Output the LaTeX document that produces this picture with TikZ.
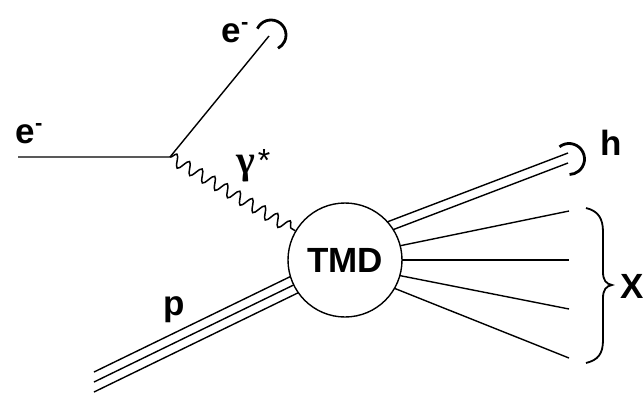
\documentclass[tikz,border=0pt]{standalone}
\usepackage{fontspec}
\setmainfont{Liberation Sans}
\newfontfamily\greekserif{Liberation Serif}
\usetikzlibrary{decorations.pathmorphing,calc}
\begin{document}
\begin{tikzpicture}[x=1pt,y=-1pt, line width=1.4pt,
  lbl/.style={inner sep=0, anchor=base west, font=\fontsize{35}{35}\selectfont\bfseries},
  hookarc/.style={line width=2.8pt},
  photon/.style={decorate, line width=1.5pt, decoration={snake, segment length=14.6pt, amplitude=6pt}},
  blob/.style={circle, draw, fill=white, minimum size=114pt, inner sep=0pt, line width=1.4pt,
    font=\fontsize{35}{35}\selectfont\bfseries}]
\useasboundingbox (0,0) rectangle (644,397);
% coordinates
\coordinate (L) at (18,157);
\coordinate (V) at (170,157);
\coordinate (E) at (269,36);
\coordinate (EH) at (271,35);
\coordinate (C) at (345,260);
\coordinate (Q) at (326,261);
\coordinate (X1) at (569,211);
\coordinate (X2) at (569,260);
\coordinate (X3) at (569,309);
\coordinate (X4) at (569,358);
\coordinate (H0) at (345,243);
\coordinate (HE) at (568,158);
\coordinate (HH) at (569,159);
\coordinate (P0) at (94,382);
% electrons
\draw (L) -- (V) -- (E);
\draw[hookarc] (EH) ++(-155:15) arc[start angle=-155, end angle=62, radius=15];
% proton (triple line)
\draw ($(P0)+(0,-10)$) -- ($(C)+(0,-10)$);
\draw (P0) -- (C);
\draw ($(P0)+(0,10)$) -- ($(C)+(0,10)$);
% hadron h (double line)
\draw ($(H0)+(0,-5)$) -- ($(HE)+(0,-5)$);
\draw ($(H0)+(0,5)$) -- ($(HE)+(0,5)$);
\draw[hookarc] (HH) ++(-128:15.5) arc[start angle=-128, end angle=88, radius=15.5];
% X lines
\draw (Q) -- (X1);
\draw (Q |- X2) -- (X2);
\draw (Q) -- (X3);
\draw (Q) -- (X4);
% blob
\node[blob] (tmd) at (C) {TMD};
% photon
\draw[photon] (V) -- (tmd);
% brace
\draw[line width=1.8pt] (586,208) .. controls (598,211) and (603,218) .. (603,232) -- (603,272)
  .. controls (603,280) and (606,284) .. (612,285)
  .. controls (606,286) and (603,290) .. (603,298) -- (603,340)
  .. controls (603,354) and (598,360) .. (586,363);
% labels
\node[lbl] (eL) at (15,143) {e\raisebox{13pt}{\fontsize{22}{22}\selectfont -}};
\node[lbl] (eT) at (221,42) {e\raisebox{13pt}{\fontsize{22}{22}\selectfont -}};
\node[lbl] (p) at (163,315) {p};
\node[lbl] (h) at (600,155) {h};
\node[lbl] (X) at (620,298) {X};
\node[inner sep=0, anchor=base west, font=\fontsize{40}{40}\selectfont\greekserif\bfseries] (gam) at (236,173) {γ};
\node[inner sep=0, font=\fontsize{32}{32}\selectfont] (star) at (264,160) {*};
\end{tikzpicture}
\end{document}
